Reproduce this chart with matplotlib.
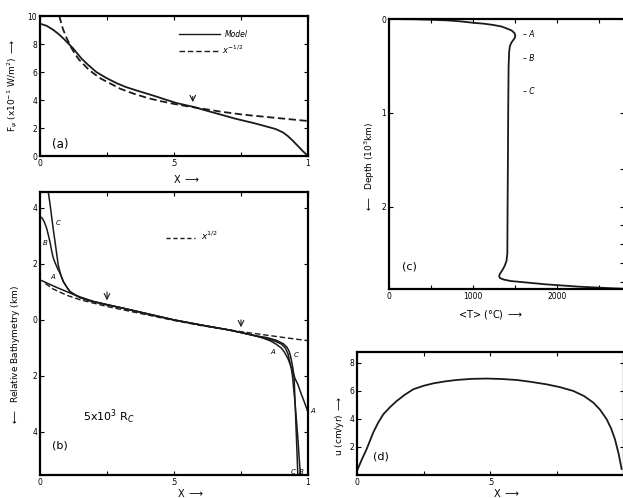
import matplotlib
matplotlib.use('Agg')
import matplotlib.pyplot as plt

# ---- data ----
# (a) surface heat flux
xa_model = [0.0, 0.025, 0.05, 0.07, 0.087, 0.105, 0.124, 0.14, 0.155, 0.18, 0.21, 0.245,
            0.286, 0.32, 0.36, 0.40, 0.435, 0.47, 0.51, 0.57, 0.61, 0.67, 0.73, 0.80,
            0.858, 0.88, 0.907, 0.925, 0.944, 0.962, 0.98, 1.0]
fa_model = [9.45, 9.3, 9.0, 8.7, 8.4, 8.05, 7.68, 7.3, 6.96, 6.5, 6.0, 5.6,
            5.2, 4.93, 4.68, 4.45, 4.24, 4.02, 3.78, 3.52, 3.3, 2.98, 2.66, 2.34,
            2.04, 1.92, 1.68, 1.42, 1.08, 0.72, 0.36, 0.0]
xa_fit = [0.072, 0.085, 0.10, 0.115, 0.13, 0.145, 0.16, 0.18, 0.20, 0.225, 0.25, 0.30,
          0.35, 0.40, 0.45, 0.50, 0.55, 0.60, 0.67, 0.76, 0.86, 1.0]
fa_fit = [10.0, 9.1, 8.4, 7.8, 7.3, 6.9, 6.6, 6.2, 5.9, 5.55, 5.3, 4.8,
          4.45, 4.15, 3.92, 3.72, 3.55, 3.4, 3.18, 2.95, 2.76, 2.5]

# (b) relative bathymetry (km, positive down) for cases A, B, C
xb_A = [0.0, 0.03, 0.06, 0.09, 0.12, 0.15, 0.2, 0.25, 0.3, 0.4, 0.5, 0.6, 0.7, 0.75,
        0.8, 0.83, 0.86, 0.88, 0.9, 0.912, 0.925, 0.935, 0.944, 0.952, 0.962, 0.975,
        0.987, 1.0]
db_A = [-1.43, -1.30, -1.17, -1.05, -0.93, -0.82, -0.66, -0.55, -0.44, -0.22, 0.0, 0.18,
        0.35, 0.45, 0.56, 0.64, 0.75, 0.86, 1.0, 1.15, 1.38, 1.62, 1.88, 2.10, 2.30, 2.65,
        2.95, 3.30]
xb_B = [0.0, 0.008, 0.016, 0.024, 0.031, 0.038, 0.044, 0.05, 0.056, 0.065, 0.077, 0.087,
        0.1, 0.112, 0.13, 0.149, 0.187, 0.25, 0.3, 0.4, 0.5, 0.6, 0.7, 0.75, 0.8, 0.85,
        0.88, 0.9, 0.915, 0.925, 0.932, 0.938, 0.942, 0.947, 0.952, 0.957, 0.962, 0.969,
        0.972]
db_B = [-3.69, -3.64, -3.50, -3.30, -3.04, -2.75, -2.44, -2.20, -2.05, -1.85, -1.62, -1.37,
        -1.17, -1.01, -0.90, -0.80, -0.68, -0.54, -0.44, -0.22, 0.0, 0.18, 0.35, 0.45, 0.56,
        0.68, 0.77, 0.86, 1.0, 1.2, 1.5, 1.75, 2.0, 2.5, 3.0, 3.6, 4.2, 5.2, 5.54]
xb_C = [0.031, 0.038, 0.044, 0.05, 0.056, 0.062, 0.068, 0.077, 0.087, 0.1, 0.112, 0.13,
        0.149, 0.187, 0.25, 0.3, 0.4, 0.5, 0.6, 0.7, 0.75, 0.8, 0.846, 0.88, 0.908, 0.922,
        0.93, 0.935, 0.939, 0.944, 0.948, 0.952, 0.956, 0.96, 0.962]
db_C = [-4.57, -4.10, -3.64, -3.20, -2.80, -2.38, -1.96, -1.62, -1.37, -1.17, -1.01, -0.90,
        -0.80, -0.68, -0.54, -0.44, -0.22, 0.0, 0.18, 0.35, 0.45, 0.56, 0.63, 0.72, 0.85,
        0.98, 1.13, 1.30, 1.49, 1.75, 2.02, 3.0, 4.0, 5.0, 5.54]
xb_fit = [0.02, 0.05, 0.10, 0.15, 0.25, 0.40, 0.50, 0.60, 0.75, 0.85, 0.95, 1.0]
db_fit = [-1.30, -1.10, -0.88, -0.72, -0.48, -0.18, 0.02, 0.20, 0.42, 0.55, 0.68, 0.74]

# (c) horizontally averaged temperature vs depth
Tc = [0, 300, 500, 700, 850, 1000, 1130, 1245, 1340, 1400, 1460, 1495, 1505, 1500, 1480,
      1460, 1440, 1432, 1425, 1420, 1417, 1413, 1410, 1400, 1380, 1350, 1320, 1312, 1325,
      1370, 1450, 1570, 1865, 2260, 2650, 2800]
zc = [0.0, 0.003, 0.008, 0.015, 0.025, 0.04, 0.05, 0.064, 0.08, 0.10, 0.122, 0.15, 0.175,
      0.2, 0.225, 0.25, 0.29, 0.35, 0.5, 1.0, 1.5, 2.0, 2.5, 2.58, 2.63, 2.68, 2.72, 2.745,
      2.765, 2.78, 2.795, 2.805, 2.83, 2.855, 2.872, 2.877]
marks_c = ['A', 'B', 'C']
marks_z = [0.16, 0.42, 0.77]

# (d) surface velocity
xd = [0.0, 0.018, 0.036, 0.061, 0.08, 0.099, 0.125, 0.149, 0.18, 0.211, 0.25, 0.286,
      0.33, 0.373, 0.43, 0.486, 0.54, 0.598, 0.65, 0.71, 0.76, 0.81, 0.85, 0.885, 0.91,
      0.935, 0.952, 0.966, 0.98, 0.991]
ud = [0.3, 1.1, 1.84, 3.03, 3.75, 4.33, 4.85, 5.27, 5.72, 6.1, 6.35, 6.52,
      6.66, 6.76, 6.84, 6.86, 6.83, 6.76, 6.63, 6.45, 6.25, 5.98, 5.62, 5.15, 4.65,
      3.97, 3.3, 2.55, 1.5, 0.43]

W, H = 623, 498
fig = plt.figure(figsize=(W / 100, H / 100), dpi=100)


def box(l, r, t, b):
    return [l / W, 1 - b / H, (r - l) / W, (b - t) / H]


def style(ax):
    for s in ax.spines.values():
        s.set_linewidth(1.6)
    ax.tick_params(direction='in', top=True, right=True, labelsize=5.5,
                   length=3, width=0.8, pad=2)


lc = '#1a1a1a'
lw = 1.3

# ---------------- (a) ----------------
ax = fig.add_axes(box(40, 308, 16, 156))
style(ax)
ax.plot(xa_model, fa_model, color=lc, lw=lw)
ax.plot(xa_fit, fa_fit, color=lc, lw=lw, ls=(0, (4, 2)))
ax.set_xlim(0, 1)
ax.set_ylim(0, 10)
ax.set_xticks([0, 0.25, 0.5, 0.75, 1])
ax.set_xticklabels(['0', '', '.5', '', '1'])
ax.set_yticks([0, 2, 4, 6, 8, 10])
ax.plot([0.52, 0.67], [8.7, 8.7], color=lc, lw=1.0)
ax.text(0.69, 8.7, 'Model', fontsize=5.5, style='italic', va='center')
ax.plot([0.52, 0.67], [7.5, 7.5], color=lc, lw=1.0, ls=(0, (4, 2)))
ax.text(0.68, 7.6, '$x^{-1/2}$', fontsize=6, va='center')
ax.annotate('', xy=(0.57, 3.65), xytext=(0.57, 4.45),
            arrowprops=dict(arrowstyle='->', lw=0.8, color=lc))
ax.text(0.045, 0.8, '(a)', fontsize=8.5, va='center')
ax.text(-0.10, 0.5, r'F$_\psi$ (x10$^{-1}$ W/m$^2$) $\longrightarrow$', rotation=90,
        fontsize=6.5, ha='center', va='center', transform=ax.transAxes)
ax.text(0.496, -0.165, r'X $\longrightarrow$', fontsize=7, ha='left', va='center',
        transform=ax.transAxes)

# ---------------- (b) ----------------
ax = fig.add_axes(box(40, 308, 192, 475))
style(ax)
ax.plot(xb_fit, db_fit, color=lc, lw=1.0, ls=(0, (4, 2)))
ax.plot(xb_A, db_A, color=lc, lw=1.1)
ax.plot(xb_B, db_B, color=lc, lw=1.1)
ax.plot(xb_C, db_C, color=lc, lw=1.1)
ax.set_xlim(0, 1)
ax.set_ylim(5.54, -4.57)
ax.set_xticks([0, 0.25, 0.5, 0.75, 1])
ax.set_xticklabels(['0', '', '.5', '', '1'])
ax.set_yticks([-4, -2, 0, 2, 4])
ax.set_yticklabels(['4', '2', '0', '2', '4'])
ax.plot([0.47, 0.58], [-2.92, -2.92], color=lc, lw=1.0, ls=(0, (3, 2)))
ax.text(0.60, -3.0, '$x^{1/2}$', fontsize=6.5, va='center')
ax.annotate('', xy=(0.25, -0.6), xytext=(0.25, -1.1),
            arrowprops=dict(arrowstyle='->', lw=0.8, color=lc))
ax.annotate('', xy=(0.75, 0.36), xytext=(0.75, -0.1),
            arrowprops=dict(arrowstyle='->', lw=0.8, color=lc))
for t, x, y in [('C', 0.06, -3.45), ('B', 0.012, -2.75), ('A', 0.04, -1.55),
                ('A', 0.86, 1.15), ('C', 0.945, 1.25), ('A', 1.008, 3.27),
                ('C', 0.935, 5.42), ('B', 0.965, 5.42)]:
    ax.text(x, y, t, fontsize=5, style='italic', va='center', clip_on=False)
ax.text(0.16, 3.45, r'5x10$^3$ R$_C$', fontsize=8, va='center')
ax.text(0.045, 4.5, '(b)', fontsize=8, va='center')
ax.text(-0.093, 0.424, r'$\longleftarrow$  Relative Bathymetry (km)', rotation=90,
        fontsize=6.5, ha='center', va='center', transform=ax.transAxes)
ax.text(0.51, -0.064, r'X $\longrightarrow$', fontsize=7, ha='left', va='center',
        transform=ax.transAxes)

# ---------------- (c) ----------------
ax = fig.add_axes(box(389, 624, 19, 289))
style(ax)
ax.plot(Tc, zc, color=lc, lw=lw)
ax.set_xlim(0, 2800)
ax.set_ylim(2.88, 0)
ax.set_xticks([0, 500, 1000, 1500, 2000, 2500])
ax.set_xticklabels(['0', '', '1000', '', '2000', ''])
ax.set_yticks([0, 1, 2])
ax.set_yticks([1.6, 2.2, 2.4, 2.6, 2.8], minor=True)
ax.tick_params(which='minor', direction='in', left=False, right=True, length=3, width=0.8)
for t, z in zip(marks_c, marks_z):
    ax.text(1600, z, '– ' + t, fontsize=5.5, style='italic', va='center')
ax.text(160, 2.64, '(c)', fontsize=8, va='center')
ax.text(-0.081, 0.452, r'$\longleftarrow$  Depth (10$^3$km)', rotation=90,
        fontsize=6.5, ha='center', va='center', transform=ax.transAxes)
ax.text(0.294, -0.096, r'<T> ($\degree$C) $\longrightarrow$', fontsize=7, ha='left',
        va='center', transform=ax.transAxes)

# ---------------- (d) ----------------
ax = fig.add_axes(box(357, 624, 352, 475))
style(ax)
ax.plot(xd, ud, color=lc, lw=lw)
ax.set_xlim(0, 1)
ax.set_ylim(0, 8.75)
ax.set_xticks([0, 0.25, 0.5, 0.75, 1])
ax.set_xticklabels(['0', '', '.5', '', ''])
ax.set_yticks([2, 4, 6, 8])
ax.text(0.06, 1.3, '(d)', fontsize=8, va='center')
ax.text(-0.064, 0.40, r'u (cm/yr) $\longrightarrow$', rotation=90,
        fontsize=6.5, ha='center', va='center', transform=ax.transAxes)
ax.text(0.509, -0.146, r'X $\longrightarrow$', fontsize=7, ha='left', va='center',
        transform=ax.transAxes)

fig.savefig('out.png', dpi=100)
